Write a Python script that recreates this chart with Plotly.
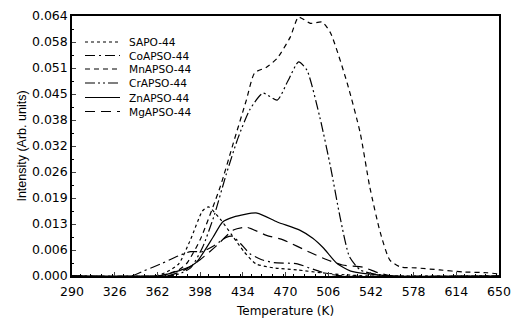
import plotly.graph_objects as go

names = ["SAPO-44", "CoAPSO-44", "MnAPSO-44", "CrAPSO-44", "ZnAPSO-44", "MgAPSO-44"]

sapo_T = [290, 360, 370, 380, 390, 400, 405, 415, 425, 435, 445, 460, 480, 500, 520, 540, 650]
sapo_I = [0, 0, 0.001, 0.003, 0.009, 0.016, 0.017, 0.014, 0.010, 0.006, 0.003, 0.002, 0.0015, 0.0008, 0.0003, 0, 0]

co_T = [290, 340, 350, 365, 380, 390, 400, 410, 420, 425, 432, 440, 450, 460, 480, 490, 500, 510, 520, 650]
co_I = [0, 0, 0.0012, 0.003, 0.005, 0.006, 0.006, 0.0075, 0.0095, 0.0098, 0.008, 0.0055, 0.004, 0.0033, 0.003, 0.002, 0.001, 0.0003, 0, 0]

mn_T = [290, 360, 370, 380, 387, 398, 415, 426, 437, 444, 454, 463, 474, 481, 491, 501, 508, 522, 533, 541, 550, 558, 567, 580, 600, 620, 640, 650]
mn_I = [0, 0, 0.0005, 0.0015, 0.0032, 0.0089, 0.022, 0.0327, 0.0433, 0.050, 0.0514, 0.0536, 0.0588, 0.0637, 0.0622, 0.0625, 0.0598, 0.0475, 0.0352, 0.022, 0.0106, 0.0039, 0.0022, 0.002, 0.0015, 0.001, 0.0008, 0.0005]

cr_T = [290, 370, 380, 390, 400, 410, 420, 430, 440, 451, 463, 472, 481, 488, 499, 508, 516, 524, 533, 545, 560, 650]
cr_I = [0, 0, 0.0005, 0.002, 0.007, 0.015, 0.025, 0.034, 0.041, 0.045, 0.0433, 0.048, 0.0527, 0.0507, 0.039, 0.0268, 0.0145, 0.0047, 0.0015, 0.0005, 0, 0]

zn_T = [290, 360, 367, 387, 395, 409, 417, 426, 446, 463, 482, 493, 502, 513, 525, 540, 560, 650]
zn_I = [0, 0, 0.0002, 0.002, 0.0034, 0.0096, 0.0133, 0.0145, 0.0155, 0.0133, 0.0113, 0.0093, 0.0069, 0.0032, 0.0012, 0.0005, 0, 0]

mg_T = [290, 370, 385, 398, 412, 426, 437, 454, 468, 490, 505, 518, 535, 548, 560, 650]
mg_I = [0, 0, 0.0015, 0.004, 0.0075, 0.0113, 0.012, 0.010, 0.0089, 0.0059, 0.004, 0.0027, 0.0022, 0.0008, 0, 0]

x_ticks = [290, 326, 362, 398, 434, 470, 506, 542, 578, 614, 650]
y_tickvals = [i * 0.0064 for i in range(11)]
y_ticktext = ["0.000", "0.006", "0.013", "0.019", "0.026", "0.032", "0.038", "0.045", "0.051", "0.058", "0.064"]

series = [
    (sapo_T, sapo_I, "dot"),
    (co_T, co_I, "10px,4px,2px,4px"),
    (mn_T, mn_I, "5px,4px"),
    (cr_T, cr_I, "10px,3px,2px,3px,2px,3px"),
    (zn_T, zn_I, "solid"),
    (mg_T, mg_I, "10px,6px"),
]

fig = go.Figure()
for name, (t, v, dash) in zip(names, series):
    fig.add_trace(go.Scatter(x=t, y=v, name=name, mode="lines", showlegend=False,
                             line=dict(color="black", width=1.2, dash=dash, shape="spline", smoothing=0.6)))

# manual legend (compact rows like the original)
H = 260.0  # plot height px
W = 427.0  # plot width px
row_px = [42, 55.5, 69, 83, 97.5, 111.5]
for name, (t, v, dash), rp in zip(names, series, row_px):
    yp = 1 - (rp - 16) / H
    fig.add_shape(type="line", xref="paper", yref="paper",
                  x0=(85 - 72) / W, x1=(120 - 72) / W, y0=yp, y1=yp,
                  line=dict(color="black", width=1.2, dash=dash))
    fig.add_annotation(text=name, xref="paper", yref="paper", x=(128 - 72) / W, y=yp,
                       xanchor="left", yanchor="middle", showarrow=False, borderpad=0,
                       font=dict(family="DejaVu Sans", size=10.6, color="black"))

# x-axis title placed below the tick labels
fig.add_annotation(text="Temperature (K)", xref="paper", yref="paper", x=(285 - 72) / W,
                   y=-(311 - 276) / H, xanchor="center", yanchor="middle", showarrow=False,
                   font=dict(family="DejaVu Sans", size=12, color="black"))

fig.update_layout(
    width=512, height=324,
    margin=dict(l=72, r=13, t=16, b=48),
    paper_bgcolor="white", plot_bgcolor="white",
    font=dict(family="DejaVu Sans", size=12, color="black"),
    showlegend=False,
)
fig.update_xaxes(range=[290, 650], tickvals=x_ticks, ticks="inside", ticklen=4,
                 showline=True, linecolor="black", linewidth=1.5, mirror=True,
                 showgrid=False, zeroline=False, ticklabelstandoff=3, automargin=False,
                 minor=dict(ticks="inside", ticklen=2, dtick=9, tickcolor="black"),
                 tickfont=dict(family="DejaVu Sans", size=12.5))
fig.update_yaxes(range=[0, 0.064], tickvals=y_tickvals, ticktext=y_ticktext, ticks="inside", ticklen=4,
                 showline=True, linecolor="black", linewidth=1.5, mirror=True,
                 showgrid=False, zeroline=False, automargin=False,
                 minor=dict(ticks="inside", ticklen=2, tickvals=[i * 0.0032 for i in range(21)], tickcolor="black"),
                 title=dict(text="Intensity (Arb. units)", font=dict(family="Liberation Sans", size=12.5), standoff=3),
                 tickfont=dict(family="DejaVu Sans", size=12.5))
fig.write_html("out.html")
